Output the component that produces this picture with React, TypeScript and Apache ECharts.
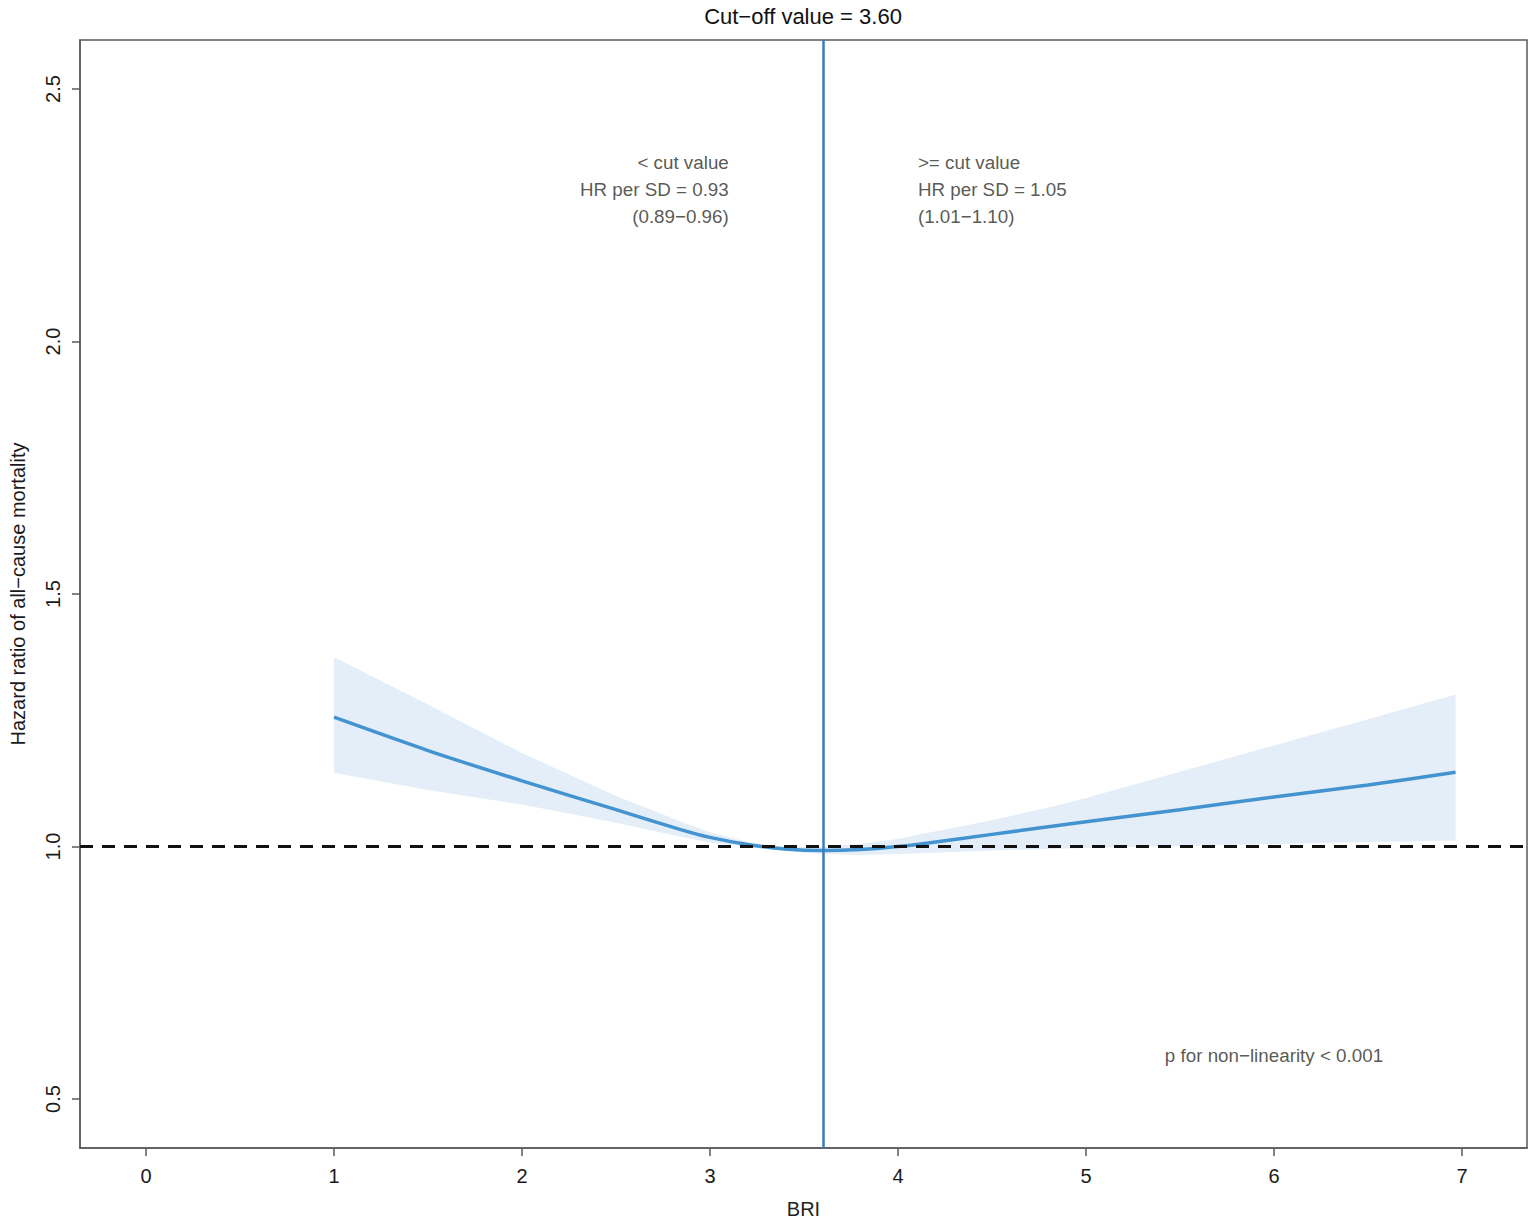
import React, { useEffect, useRef } from "react";
import * as echarts from "echarts";

// ---- data ----
const BRI = [1.0, 1.5, 2.0, 2.5, 2.84, 3.0, 3.2, 3.4, 3.6, 3.8, 4.0, 4.16, 4.5, 4.8, 5.0, 5.5, 6.0, 6.5, 6.966];
const HR = [1.256, 1.19, 1.13, 1.073, 1.034, 1.018, 1.004, 0.995, 0.992, 0.994, 1.0, 1.007, 1.024, 1.039, 1.049, 1.073, 1.098, 1.122, 1.147];
const LOWER = [1.146, 1.112, 1.083, 1.047, 1.02, 1.008, 0.999, 0.991, 0.985, 0.983, 0.985, 0.987, 0.992, 0.995, 0.997, 1.001, 1.005, 1.009, 1.012];
const UPPER = [1.375, 1.281, 1.185, 1.1, 1.05, 1.028, 1.009, 0.999, 0.999, 1.005, 1.015, 1.027, 1.052, 1.077, 1.096, 1.148, 1.2, 1.252, 1.301];

const X_TICKS = [0, 1, 2, 3, 4, 5, 6, 7];
const Y_TICKS = [0.5, 1.0, 1.5, 2.0, 2.5];
const CUT_OFF = 3.6;
const REF_HR = 1.0;

const TITLE = "Cut\u2212off value = 3.60";
const X_NAME = "BRI";
const Y_NAME = "Hazard ratio of all\u2212cause mortality";
const LEFT_NOTE = ["< cut value", "HR per SD = 0.93", "(0.89\u22120.96)"];
const RIGHT_NOTE = [">= cut value", "HR per SD = 1.05", "(1.01\u22121.10)"];
const P_NOTE = "p for non\u2212linearity < 0.001";

const FONT = '"Liberation Sans", Arial, Helvetica, sans-serif';

export default function App() {
  const ref = useRef<HTMLDivElement>(null);

  useEffect(() => {
    if (!ref.current) return;
    const chart = echarts.init(ref.current, null, { renderer: "svg" });

    const hrData = BRI.map((x, i) => [x, HR[i]]);
    const bandData = BRI.map((x, i) => [x, LOWER[i], UPPER[i]]);

    const noteStyle = {
      fontFamily: FONT,
      fontSize: 18.8,
      color: "#2e2e26",
      lineHeight: 27,
    };

    const option: any = {
      animation: false,
      grid: {
        left: 80,
        right: 8,
        top: 40,
        bottom: 76,
        outerBoundsMode: "none",
        containLabel: false,
        show: true,
        borderColor: "#5a5a5a",
        borderWidth: 1.5,
        backgroundColor: "transparent",
      },
      graphic: [
        {
          type: "text",
          x: 803,
          y: 5,
          style: {
            text: TITLE,
            font: `22px ${FONT}`,
            fill: "#111",
            textAlign: "center",
            textVerticalAlign: "top",
          },
        },
      ],
      xAxis: {
        type: "value",
        min: -0.351,
        max: 7.346,
        name: X_NAME,
        nameLocation: "middle",
        nameGap: 51,
        nameTextStyle: { fontFamily: FONT, fontSize: 20, color: "#222" },
        splitLine: { show: false },
        axisLine: { show: true, onZero: false, lineStyle: { color: "#5a5a5a", width: 1.5 } },
        axisTick: {
          show: true,
          customValues: X_TICKS,
          length: 8,
          lineStyle: { color: "#5a5a5a", width: 1.5 },
        },
        axisLabel: {
          customValues: X_TICKS,
          fontFamily: FONT,
          fontSize: 20,
          color: "#1a1a1a",
          margin: 18,
          formatter: (v: number) => String(v),
        },
      },
      yAxis: {
        type: "value",
        min: 0.403,
        max: 2.597,
        name: Y_NAME,
        nameLocation: "middle",
        nameGap: 52,
        nameTextStyle: { fontFamily: FONT, fontSize: 20, color: "#1a1a1a" },
        splitLine: { show: false },
        axisLine: { show: true, onZero: false, lineStyle: { color: "#5a5a5a", width: 1.5 } },
        axisTick: {
          show: true,
          customValues: Y_TICKS,
          length: 8,
          lineStyle: { color: "#5a5a5a", width: 1.5 },
        },
        axisLabel: {
          customValues: Y_TICKS,
          fontFamily: FONT,
          fontSize: 20,
          color: "#1a1a1a",
          rotate: 90,
          margin: 17,
          formatter: (v: number) => v.toFixed(1),
        },
      },
      series: [
        {
          type: "custom",
          name: "band",
          data: bandData,
          silent: true,
          z: 1,
          encode: { x: 0, y: [1, 2] },
          renderItem: (params: any, api: any) => {
            if (params.dataIndex !== 0) return null;
            const upper = BRI.map((x, i) => api.coord([x, UPPER[i]]));
            const lower = BRI.map((x, i) => api.coord([x, LOWER[i]])).reverse();
            return {
              type: "polygon",
              shape: { points: upper.concat(lower), smooth: 0 },
              style: { fill: "#e4eef8", stroke: "none" },
            };
          },
        },
        {
          type: "line",
          name: "HR",
          data: hrData,
          symbol: "none",
          smooth: 0.25,
          lineStyle: { color: "#4393d0", width: 3.5 },
          z: 3,
          silent: true,
        },
        {
          type: "line",
          name: "refs",
          data: [],
          z: 4,
          silent: true,
          markLine: {
            silent: true,
            symbol: "none",
            label: { show: false },
            animation: false,
            data: [
              {
                yAxis: REF_HR,
                lineStyle: { color: "#111", width: 3, type: [13, 9] },
              },
              {
                xAxis: CUT_OFF,
                lineStyle: { color: "#3a7bbd", width: 2.5, type: "solid" },
              },
            ],
          },
        },
        {
          type: "scatter",
          name: "notes",
          symbolSize: 0,
          silent: true,
          z: 5,
          data: [
            {
              value: [3.1, 2.3],
              label: {
                show: true,
                position: "left",
                distance: 0,
                align: "right",
                formatter: LEFT_NOTE.join("\n"),
                ...noteStyle,
              },
            },
            {
              value: [4.106, 2.3],
              label: {
                show: true,
                position: "right",
                distance: 0,
                align: "left",
                formatter: RIGHT_NOTE.join("\n"),
                ...noteStyle,
              },
            },
            {
              value: [6.0, 0.587],
              label: {
                show: true,
                position: "inside",
                align: "center",
                formatter: P_NOTE,
                ...noteStyle,
              },
            },
          ],
        },
      ],
    };

    chart.setOption(option);
    return () => chart.dispose();
  }, []);

  return (
    <div
      ref={ref}
      style={{ position: "absolute", left: 0, top: 0, width: 1535, height: 1224, background: "#fff" }}
    />
  );
}
